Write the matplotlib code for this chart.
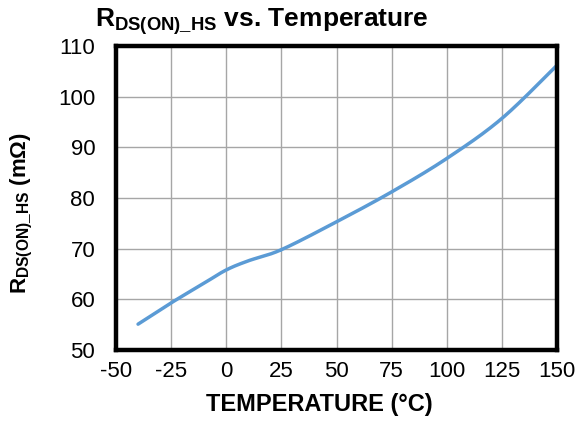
import matplotlib
matplotlib.use("Agg")
import matplotlib.pyplot as plt
import numpy as np

plt.rcParams['font.family'] = ['Liberation Sans', 'DejaVu Sans']
plt.rcParams['mathtext.fontset'] = 'custom'
plt.rcParams['mathtext.rm'] = 'Liberation Sans'
plt.rcParams['mathtext.bf'] = 'Liberation Sans:bold'
plt.rcParams['axes.unicode_minus'] = False

temps = [-40, -25, -10, 0, 10, 25, 50, 75, 100, 125, 150]
rdson = [55.1, 59.3, 63.2, 65.8, 67.6, 69.8, 75.3, 81.2, 87.8, 95.7, 106.2]

xticks = [-50, -25, 0, 25, 50, 75, 100, 125, 150]
yticks = [50, 60, 70, 80, 90, 100, 110]

fig = plt.figure(figsize=(5.79, 4.26), dpi=100)
ax = fig.add_axes([116/579, 1-350/426, 441/579, 304/426])

# smoothed line, Catmull-Rom like the spreadsheet's "smooth line"
def smooth(x, y, n=40):
    p = np.column_stack([x, y]).astype(float)
    p = np.vstack([p[0], p, p[-1]])
    out = []
    s = np.linspace(0, 1, n)[:, None]
    for k in range(1, len(p)-2):
        p0, p1, p2, p3 = p[k-1], p[k], p[k+1], p[k+2]
        seg = 0.5*((2*p1) + (-p0+p2)*s + (2*p0-5*p1+4*p2-p3)*s**2 + (-p0+3*p1-3*p2+p3)*s**3)
        out.append(seg)
    out = np.vstack(out)
    return out[:, 0], out[:, 1]

sx, sy = smooth(temps, rdson)
ax.plot(sx, sy, color='#5B9BD5', lw=2.5, solid_capstyle='round')

ax.set_xlim(-50, 150)
ax.set_ylim(50, 110)
ax.set_xticks(xticks)
ax.set_yticks(yticks)
ax.tick_params(length=0, labelsize=16)
ax.tick_params(axis='y', pad=15)
ax.tick_params(axis='x', pad=8)
ax.grid(color='#A6A6A6', lw=1)
ax.set_axisbelow(True)
for s in ax.spines.values():
    s.set_linewidth(3.2)
    s.set_color('black')

ax.set_xlabel('TEMPERATURE (°C)', fontsize=17, fontweight='bold')
ax.xaxis.set_label_coords((319-116)/441, -(405-350)/304)
ax.xaxis.label.set_va('center')
ax.set_ylabel(r'$\mathbf{R_{DS(ON)\_HS}}$ (mΩ)', fontsize=16, fontweight='bold')
ax.yaxis.set_label_coords(-(116-22)/441, (350-213)/304)
ax.yaxis.label.set_va('center')
fig.text(262/579, 1-22/426, r'$\mathbf{R_{DS(ON)\_HS}}$ vs. Temperature',
         fontsize=19, fontweight='bold', ha='center', va='center')

fig.savefig('out.png', dpi=100)
